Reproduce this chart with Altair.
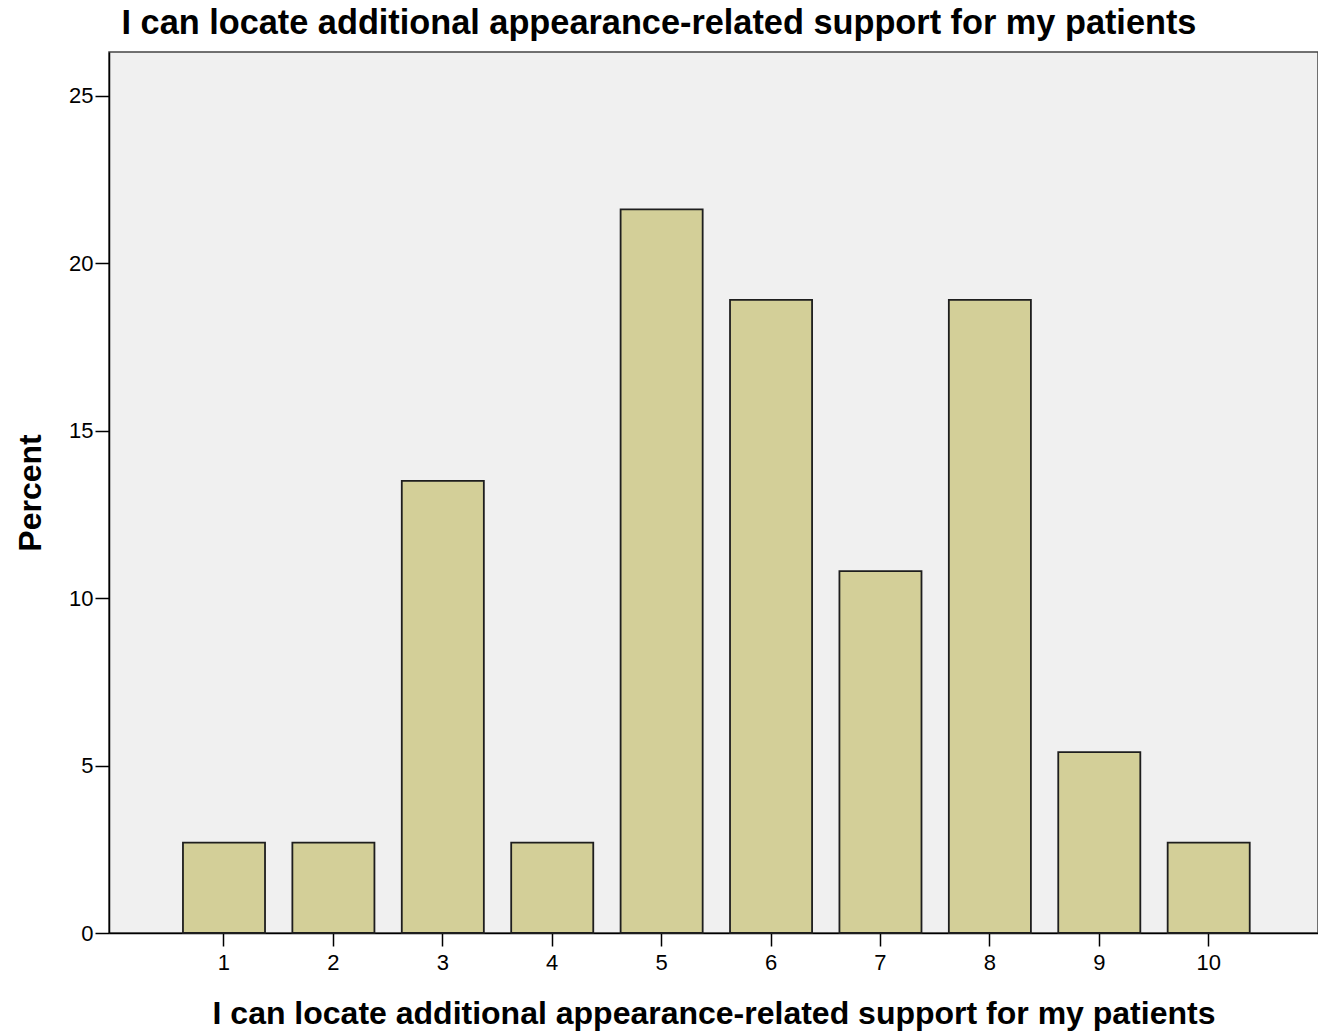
import altair as alt
import pandas as pd

categories = ["1", "2", "3", "4", "5", "6", "7", "8", "9", "10"]
percent = [2.7, 2.7, 13.5, 2.7, 21.6, 18.9, 10.8, 18.9, 5.4, 2.7]
y_ticks = [0, 5, 10, 15, 20, 25]

title_text = "I can locate additional appearance-related support for my patients"

df = pd.DataFrame({"cat": categories, "pct": percent})

FONT = "Liberation Sans"

chart = alt.Chart(df).mark_bar(
    fill="#D3CF98", stroke="#1e1e1e", strokeWidth=1.8
).encode(
    x=alt.X("cat:O", sort=categories,
            scale=alt.Scale(paddingInner=0.25, paddingOuter=0.65, align=0.52),
            axis=alt.Axis(title=title_text, labelAngle=0, labelFontSize=22,
                          labelFont=FONT, labelColor="#000", tickSize=13,
                          tickColor="#000", tickWidth=1.5, domainColor="#000",
                          domainWidth=1.5, labelPadding=6, titleFont=FONT,
                          titleFontSize=32, titleFontWeight="bold",
                          titleColor="#000", titlePadding=25)),
    y=alt.Y("pct:Q", scale=alt.Scale(domain=[0, 26.3], nice=False),
            axis=alt.Axis(title="Percent", values=y_ticks, grid=False,
                          labelFontSize=22, labelFont=FONT, labelColor="#000",
                          tickSize=14, tickColor="#000", tickWidth=1.5,
                          domainColor="#000", domainWidth=1.5, labelPadding=2,
                          titleFont=FONT, titleFontSize=32, titleFontWeight="bold",
                          titleColor="#000", titlePadding=21)),
).properties(
    width=1209,
    height=881,
    autosize="none",
    padding={"left": 101, "top": 44, "right": 0, "bottom": 100},
    title=alt.TitleParams(title_text, anchor="start", dx=107, dy=33, offset=17,
                          baseline="alphabetic", font=FONT, fontSize=34.3,
                          fontWeight="bold", color="#000"),
).configure_view(
    fill="#F0F0F0", stroke="#444444", strokeWidth=1.5
)

chart.save("out.html", embed_options={"renderer": "svg", "actions": False})
